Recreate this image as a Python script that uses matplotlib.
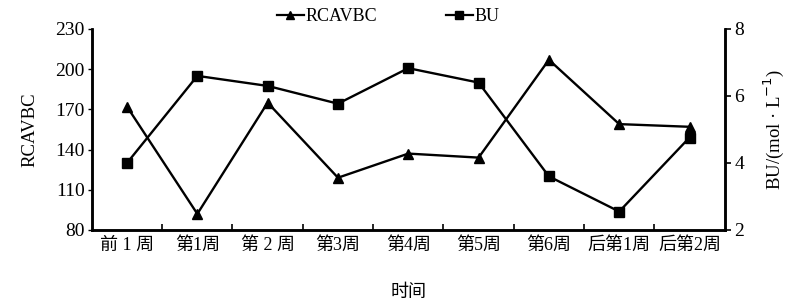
import numpy as np
import matplotlib
matplotlib.use('Agg')
import matplotlib.pyplot as plt
from matplotlib.lines import Line2D

plt.rcParams['font.family'] = ['Liberation Serif', 'Noto Sans CJK SC', 'DejaVu Sans']

### DATA ######################################################################
weeks  = ['前 1 周', '第1周', '第 2 周', '第3周', '第4周', '第5周', '第6周', '后第1周', '后第2周']
rcavbc = [172, 92, 175, 119, 137, 134, 207, 159, 157]
bu     = [4.0, 6.6, 6.3, 5.77, 6.83, 6.4, 3.6, 2.55, 4.76]

### PLOT ######################################################################
fig = plt.figure(figsize=(7.92, 3.05), dpi=100)
ax = fig.add_axes([0.116, 0.246, 0.799, 0.659])
ax2 = ax.twinx()

x = np.arange(len(weeks)) + 0.5
ax.plot(x, rcavbc, color='black', lw=1.7, marker='^', ms=7, clip_on=False, zorder=3)
ax2.plot(x, bu, color='black', lw=1.7, marker='s', ms=7, clip_on=False, zorder=3)

ax.set_xlim(0, len(weeks))
ax.set_ylim(80, 230)
ax.set_yticks([80, 110, 140, 170, 200, 230])
ax2.set_ylim(2, 8)
ax2.set_yticks([2, 4, 6, 8])

ax.set_xticks(np.arange(1, len(weeks)))
ax.set_xticklabels([])
ax.set_xticks(x, minor=True)
ax.set_xticklabels(weeks, minor=True, fontsize=13)
ax.tick_params(axis='x', which='major', direction='in', length=4, width=1.2)
ax.tick_params(axis='x', which='minor', length=0, pad=5)
ax.tick_params(axis='y', direction='out', length=3, width=1, labelsize=14, pad=2)
ax2.tick_params(axis='y', direction='out', length=4, width=1.2, labelsize=14, pad=3)

for a in (ax, ax2):
    a.spines['top'].set_visible(False)
    for s in ('left', 'right', 'bottom'):
        a.spines[s].set_linewidth(1.8)

ax.set_ylabel('RCAVBC', fontsize=13.5, labelpad=12)
ax2.set_ylabel('BU/(mol · L$^{-1}$)', fontsize=13.5, labelpad=12)
ax.set_xlabel('时间', fontsize=13, labelpad=22)

handles = [Line2D([], [], color='black', lw=1.6, marker='^', ms=6),
           Line2D([], [], color='black', lw=1.6, marker='s', ms=6)]
fig.legend(handles, ['RCAVBC', 'BU'], loc='center', bbox_to_anchor=(0.49, 0.945),
           ncol=2, frameon=False, fontsize=13, handlelength=1.5, handletextpad=0.1,
           columnspacing=3.8)

fig.savefig('out.png', dpi=100)
